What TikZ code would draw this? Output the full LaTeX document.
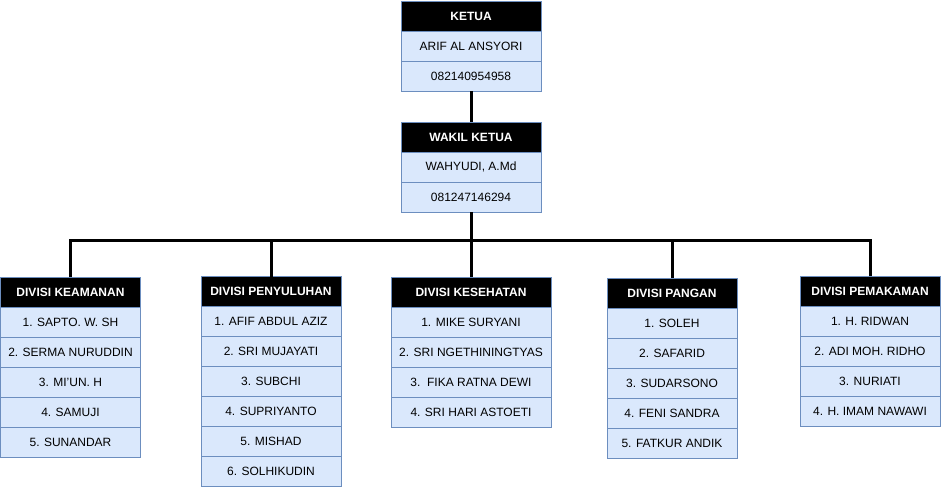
\documentclass[tikz,border=0pt]{standalone}
\usepackage{fontspec}
\setmainfont{Liberation Sans}
\definecolor{cellfill}{HTML}{DAE8FC}
\definecolor{cellline}{HTML}{6C8EBF}
\tikzset{
  hdr/.style={rectangle, draw=cellline, fill=black, text=white,
    font=\bfseries\fontsize{9}{11}\selectfont, minimum height=22.5pt,
    inner sep=0pt, outer sep=0pt, anchor=north west, line width=0.75pt},
  cell/.style={rectangle, draw=cellline, fill=cellfill, text=black,
    font=\fontsize{9}{11}\selectfont, minimum height=22.5pt,
    inner sep=0pt, outer sep=0pt, anchor=north west, line width=0.75pt},
  link/.style={draw=black, line width=2.25pt}
}
\newcommand{\orgbox}[6]{%
  \node[hdr, minimum width=#4*0.75pt] (#1) at (#2,#3) {#5};
  \foreach [count=\i] \t in {#6} {
    \node[cell, minimum width=#4*0.75pt] (#1-\i) at (#2,#3+30*\i) {\t};
  }%
}
\begin{document}
\begin{tikzpicture}[x=0.75pt,y=-0.75pt]
\useasboundingbox (0,0) rectangle (941,487);
\orgbox{ketua}{401}{1}{140}{KETUA}{ARIF AL ANSYORI,082140954958}
\orgbox{wakil}{401}{122}{140}{WAKIL KETUA}{{WAHYUDI, A.Md},081247146294}
\orgbox{keam}{0.5}{277}{140}{DIVISI KEAMANAN}{1. SAPTO. W. SH,2. SERMA NURUDDIN,3. MI'UN. H,4. SAMUJI,5. SUNANDAR}
\orgbox{peny}{201}{276.5}{140}{DIVISI PENYULUHAN}{1. AFIF ABDUL AZIZ,2. SRI MUJAYATI,3. SUBCHI,4. SUPRIYANTO,5. MISHAD,6. SOLHIKUDIN}
\orgbox{kes}{391}{277}{160}{DIVISI KESEHATAN}{1. MIKE SURYANI,2. SRI NGETHININGTYAS,3.~~FIKA RATNA DEWI,4. SRI HARI ASTOETI}
\orgbox{pang}{607}{278}{130}{DIVISI PANGAN}{1. SOLEH,2. SAFARID,3. SUDARSONO,4. FENI SANDRA,5. FATKUR ANDIK}
\orgbox{pemak}{800}{276}{140}{DIVISI PEMAKAMAN}{1. H. RIDWAN,2. ADI MOH. RIDHO,3. NURIATI,4. H. IMAM NAWAWI}
\coordinate (bus) at (471,240);
\draw[link] (ketua-2.south) -- (wakil.north);
\draw[link] (wakil-2.south) -- (bus);
\draw[link] (keam.north) -- (keam.north |- bus) -- (pemak.north |- bus) -- (pemak.north);
\foreach \n in {peny,kes,pang} {\draw[link] (\n.north) -- (\n.north |- bus);}
\end{tikzpicture}
\end{document}
